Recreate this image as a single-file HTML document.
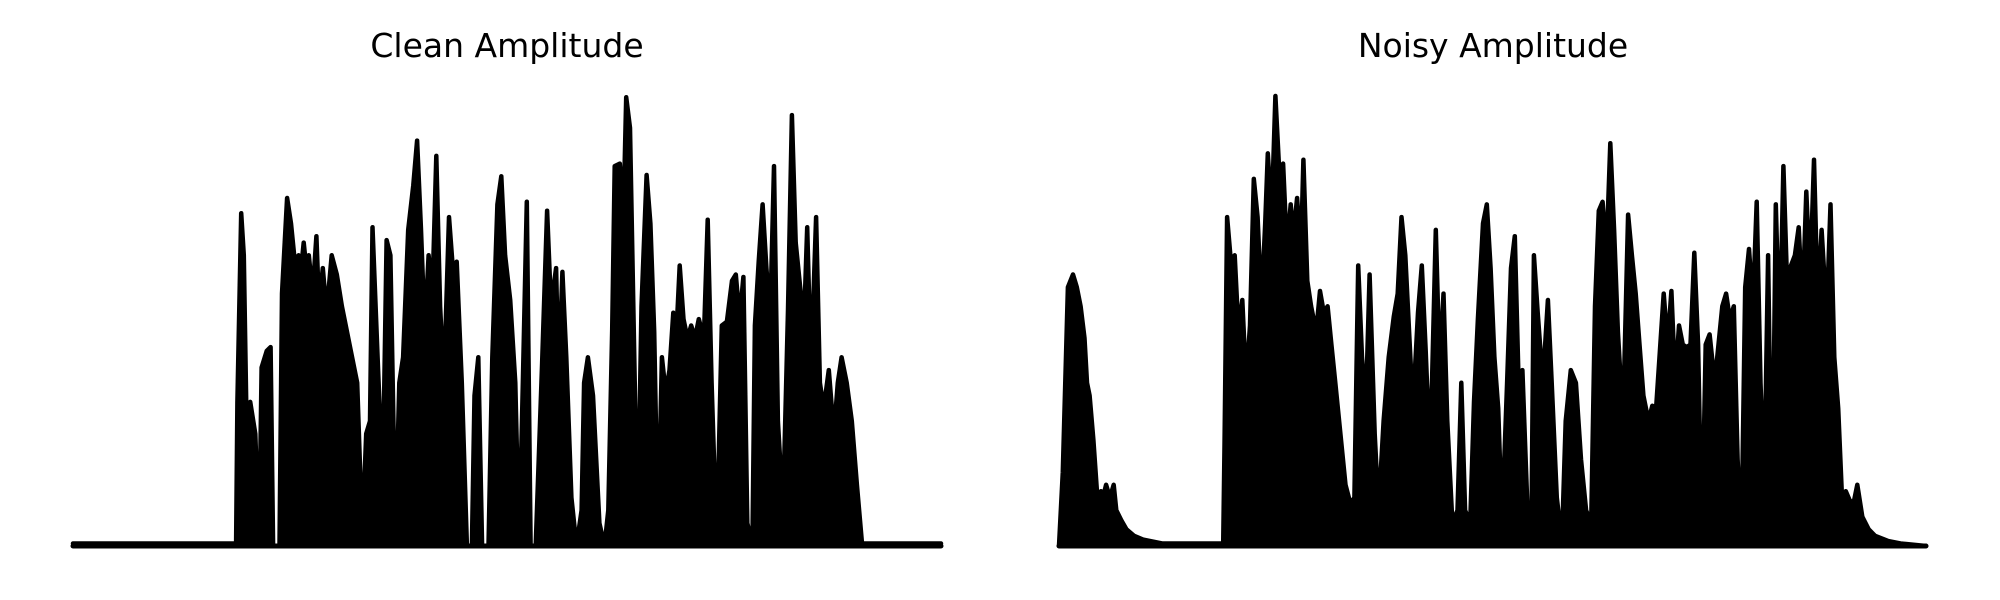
<!DOCTYPE html>
<html><head><meta charset="utf-8"><style>
html,body{margin:0;padding:0;background:#fff;}
svg{display:block;}
text{font-family:"DejaVu Sans","Liberation Sans",sans-serif;}
</style></head><body>
<svg id="chart" width="2000" height="600" viewBox="0 0 2000 600" xmlns="http://www.w3.org/2000/svg">
<text x="507" y="57" font-size="33" text-anchor="middle">Clean Amplitude</text>
<text x="1493" y="57" font-size="33" text-anchor="middle">Noisy Amplitude</text>
<g id="clean"></g>
<g id="noisy"></g>
</svg>
<script>
const cleanT=[57,185,186,189,191,193,196,200,203,205,209,212,214,219,221,225,228,231,234,236,238,240,242,245,248,250,253,256,260,264,268,272,276,280,284,287,290,292,296,300,303,306,310,313,316,320,324,327,330,333,336,339,342,345,348,352,355,358,362,366,370,372,375,378,383,386,390,393,396,400,404,407,410,413,416,420,425,429,432,436,438,441,444,448,452,456,458,461,465,470,474,477,480,482,486,489,491,494,497,500,503,507,510,513,516,519,522,525,528,530,533,536,539,542,545,548,552,555,558,562,566,570,574,577,580,583,586,590,592,595,598,601,604,607,610,614,618,621,624,628,630,633,636,640,643,646,650,654,657,660,664,668,672,676,738];
const cleanA=[2,2,113,261,228,108,113,88,0,140,153,156,0,0,198,273,253,223,228,218,238,218,228,198,243,188,218,183,228,213,188,168,148,128,8,88,98,250,148,48,240,228,8,128,148,248,283,318,248,168,228,198,306,188,128,258,218,223,128,0,0,118,148,0,0,148,268,290,228,193,128,0,130,270,0,0,143,263,188,218,128,215,148,38,0,28,128,148,118,18,0,28,170,298,300,263,352,328,168,8,188,291,253,168,8,148,120,138,183,158,220,178,163,173,163,178,163,256,128,0,173,176,208,213,178,211,18,0,173,223,268,218,178,298,98,28,185,338,238,198,158,250,138,258,128,108,138,88,128,148,128,98,48,2,2];
const noisyT=[829,832,836,840,843,846,849,851,853,856,859,862,864,866,869,872,874,878,882,888,895,910,958,959,961,964,967,970,973,976,979,982,985,988,991,993,996,999,1002,1005,1008,1011,1013,1016,1019,1021,1024,1027,1031,1034,1037,1040,1043,1046,1050,1054,1058,1061,1064,1067,1070,1073,1077,1080,1084,1088,1092,1095,1098,1101,1104,1107,1111,1114,1117,1120,1122,1125,1128,1131,1134,1138,1142,1145,1148,1152,1155,1158,1162,1165,1168,1171,1174,1177,1181,1184,1187,1190,1193,1197,1200,1202,1205,1209,1213,1216,1220,1224,1227,1231,1235,1239,1243,1247,1250,1253,1256,1259,1262,1265,1268,1272,1276,1279,1282,1285,1288,1292,1295,1298,1301,1304,1307,1310,1313,1316,1319,1322,1325,1328,1331,1334,1337,1340,1344,1347,1350,1353,1356,1359,1362,1365,1368,1371,1374,1377,1380,1383,1386,1389,1392,1395,1398,1401,1404,1407,1410,1413,1416,1419,1422,1425,1428,1432,1435,1438,1441,1444,1447,1450,1453,1456,1460,1465,1470,1480,1490,1510];
const noisyA=[0,58,203,213,203,188,163,128,118,83,40,43,40,48,38,48,28,20,13,8,5,2,2,78,258,223,228,168,193,128,173,288,258,188,253,308,258,353,293,300,233,268,243,273,228,303,208,188,168,200,183,188,158,128,88,48,33,38,220,148,108,213,88,28,98,148,180,198,258,228,168,108,183,220,153,78,128,248,138,198,98,18,28,128,28,18,113,178,253,268,218,148,108,18,128,218,243,128,138,28,3,228,183,128,193,128,38,3,98,138,128,68,28,18,188,263,270,228,316,248,168,98,260,228,198,158,118,98,110,108,153,198,158,200,128,173,158,156,158,230,158,3,158,166,128,158,188,198,178,188,68,3,203,233,188,270,128,48,228,8,268,158,298,203,220,228,250,188,278,208,303,188,248,180,268,148,108,38,43,36,33,48,23,13,8,4,2,0];
const ampMax=353, yBase=546, yTop=96;
function yScale(a){return yBase-(a/ampMax)*(yBase-yTop);}
function draw(gId,T,A,px0,px1){
  const g=document.getElementById(gId);
  const t0=T[0],t1=T[T.length-1];
  const xs=t=>px0+(t-t0)/(t1-t0)*(px1-px0);
  let pts=T.map((t,i)=>xs(t).toFixed(1)+','+yScale(A[i]).toFixed(1)).join(' ');
  const area=document.createElementNS('http://www.w3.org/2000/svg','polygon');
  area.setAttribute('points',xs(t0)+','+yBase+' '+pts+' '+xs(t1)+','+yBase);
  area.setAttribute('fill','#000');
  
  
  g.appendChild(area);
  const line=document.createElementNS('http://www.w3.org/2000/svg','polyline');
  line.setAttribute('points',pts);
  line.setAttribute('fill','none');line.setAttribute('stroke','#000');
  line.setAttribute('stroke-width','4.5');line.setAttribute('stroke-linejoin','round');line.setAttribute('stroke-linecap','round');
  
  
  g.appendChild(line);
  const base=document.createElementNS('http://www.w3.org/2000/svg','line');
  base.setAttribute('x1',px0);base.setAttribute('x2',px1);base.setAttribute('y1',yBase);base.setAttribute('y2',yBase);
  base.setAttribute('stroke','#000');base.setAttribute('stroke-width','5');base.setAttribute('stroke-linecap','round');
  
  
  g.appendChild(base);
}
draw('clean',cleanT,cleanA,73,941);
draw('noisy',noisyT,noisyA,1059,1926);
</script>
</body></html>
